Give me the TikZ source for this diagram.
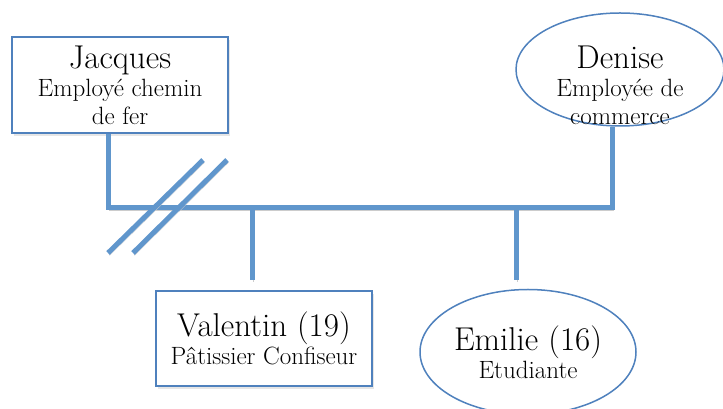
\documentclass[tikz,border=0pt]{standalone}
\usepackage{tikz}
\usetikzlibrary{shapes.geometric,shadows}
\definecolor{tieblue}{RGB}{96,150,204}
\definecolor{boxblue}{RGB}{79,129,189}
\newcommand{\namesize}{\fontsize{33}{33}\selectfont}

\begin{document}
\begin{tikzpicture}[x=1pt,y=1pt,
	person/.style={draw=boxblue,line width=1.5pt,fill=white,align=center,inner sep=0pt,font=\fontsize{25}{28}\selectfont},
	personbox/.style={person,rectangle,minimum width=216pt,minimum height=96pt,drop shadow={shadow xshift=2pt,shadow yshift=-3pt,opacity=0.2}},
	personoval/.style={person,ellipse},
	tie/.style={tieblue,line width=5pt,preaction={draw=black!20,transform canvas={shift={(1.5pt,-2.5pt)}}}}]
	\useasboundingbox (0,0) rectangle (723,409);
	% family bar and divorce marks
	\coordinate (barL) at (108,201);
	\coordinate (barR) at (612,201);
	\coordinate (valtop) at (252,129);
	\coordinate (emitop) at (516,129);
	\coordinate (cutA1) at (108,156);
	\coordinate (cutA2) at (203,249);
	\coordinate (cutB1) at (133,156);
	\coordinate (cutB2) at (227,249);
		% parents
		\node[personbox] (jacques) at (120,324) {{\namesize Jacques}\\Employé chemin\\de fer};
		\node[personoval,minimum width=208pt,minimum height=113pt] (denise) at (620,339.5) {};
		\node[align=center,font=\fontsize{25}{28}\selectfont] (denisetxt) at (620,324) {{\namesize Denise}\\Employée de\\commerce};
		% children
		\node[personbox,minimum height=95pt] (valentin) at (264,70.5) {{\namesize Valentin (19)}\\Pâtissier Confiseur};
		\node[personoval,minimum width=216pt,minimum height=125pt] (emilie) at (528,57) {{\namesize Emilie (16)}\\Etudiante};
	\draw[tie,line join=miter] (jacques.south -| barL) -- (barL) -- (barR) -- (denise.south -| barR);
	\draw[tie] (valtop |- barL) -- (valtop);
	\draw[tie] (emitop |- barL) -- (emitop);
	\draw[tie] (cutA1) -- (cutA2);
	\draw[tie] (cutB1) -- (cutB2);
\end{tikzpicture}
\end{document}
